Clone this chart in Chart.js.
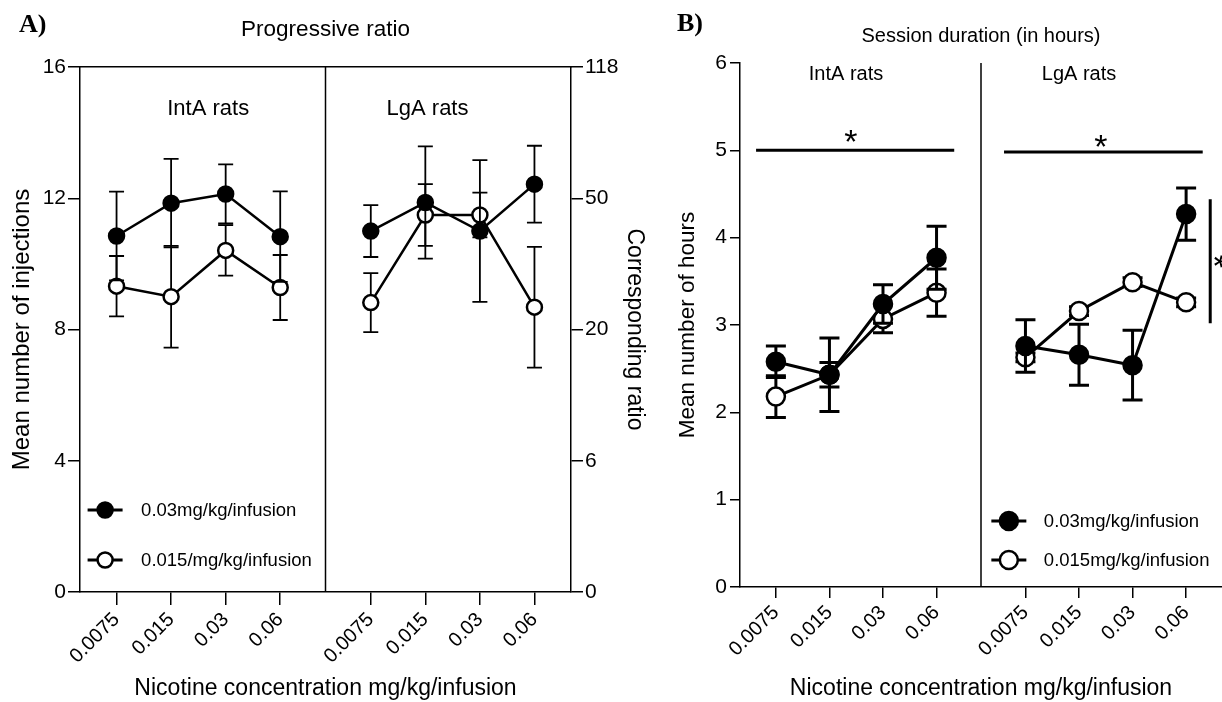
<!DOCTYPE html>
<html><head><meta charset="utf-8">
<script src="https://cdn.jsdelivr.net/npm/chart.js@4.4.1/dist/chart.umd.min.js"></script>
<style>
html,body{margin:0;padding:0;background:#fff;}
body{width:1222px;height:702px;position:relative;overflow:hidden;}
canvas{position:absolute;top:0;}
#ca{left:0;}
#cb{left:652px;}
.lbl{position:absolute;font-family:"Liberation Serif","Times New Roman",serif;font-weight:bold;font-size:26px;line-height:1;color:#000;}
</style></head>
<body>
<canvas id="ca" width="651" height="702"></canvas>
<canvas id="cb" width="570" height="702"></canvas>
<div class="lbl" style="left:19px;top:11px">A)</div>
<div class="lbl" style="left:677px;top:10px">B)</div>
<script>
// ---------- data ----------
const doses = ['0.0075', '0.015', '0.03', '0.06'];
const groups = ['IntA rats', 'LgA rats'];
const legendA = ['0.03mg/kg/infusion', '0.015/mg/kg/infusion'];
const legendB = ['0.03mg/kg/infusion', '0.015mg/kg/infusion'];

// Panel A: progressive ratio (mean number of injections)
const prIntA_03 = [10.85, 11.85, 12.13, 10.83];
const prIntA_03_sem = [1.35, 1.35, 0.90, 1.38];
const prIntA_015 = [9.32, 9.00, 10.41, 9.28];
const prIntA_015_sem = [0.92, 1.55, 0.77, 0.99];
const prLgA_03 = [11.00, 11.87, 11.00, 12.43];
const prLgA_03_sem = [0.79, 1.71, 2.16, 1.17];
const prLgA_015 = [8.82, 11.49, 11.49, 8.68];
const prLgA_015_sem = [0.90, 0.94, 0.68, 1.84];
const injTicks = [0, 4, 8, 12, 16];
const ratioTicks = ['0', '6', '20', '50', '118'];

// Panel B: session duration (hours)
const hrIntA_03 = [2.58, 2.43, 3.24, 3.77];
const hrIntA_03_sem = [0.18, 0.42, 0.22, 0.36];
const hrIntA_015 = [2.18, 2.43, 3.07, 3.37];
const hrIntA_015_sem = [0.24, 0.14, 0.16, 0.27];
const hrLgA_03 = [2.76, 2.66, 2.54, 4.27];
const hrLgA_03_sem = [0.30, 0.35, 0.40, 0.30];
const hrLgA_015 = [2.63, 3.16, 3.49, 3.26];
const hrLgA_015_sem = [0.05, 0.05, 0.05, 0.05];
const hourTicks = [0, 1, 2, 3, 4, 5, 6];

// significance marks (panel B, data units)
const sigIntA = {x0: 0.30, x1: 4.00, y: 5.0, starX: 2.07, starY: 5.2};
const sigLgA = {x0: 4.93, x1: 8.64, y: 4.98, starX: 6.74, starY: 5.14};
const sigVertical = {x: 8.78, y0: 3.02, y1: 4.44};

// ---------- helpers ----------
const F = '"Liberation Sans", Arial, Helvetica, sans-serif';
const slotStart = [0.67, 5.33];
const dividerAt = 4.5;
const tickPositions = [0, 1].flatMap(g => doses.map((d, i) => slotStart[g] + i));
function doseLabel(v) {
  const k = tickPositions.findIndex(p => Math.abs(p - v) < 1e-6);
  return k < 0 ? '' : doses[k % doses.length];
}
function pts(g, vals) { return vals.map((v, i) => ({x: slotStart[g] + i, y: v})); }
function series(g, vals, errs, filled, st) {
  return {
    data: pts(g, vals), err: errs,
    borderColor: '#000', backgroundColor: filled ? '#000' : '#fff',
    pointBackgroundColor: filled ? '#000' : '#fff', pointBorderColor: '#000',
    pointRadius: st.r, pointHoverRadius: st.r, pointBorderWidth: st.pbw,
    borderWidth: st.lw, tension: 0, fill: false
  };
}

const errorBars = {
  id: 'errorBars',
  beforeDatasetDraw(chart, args, o) {
    const ds = chart.data.datasets[args.index];
    if (!ds.err) return;
    const ys = chart.scales.y, ctx = chart.ctx;
    ctx.save();
    ctx.strokeStyle = '#000'; ctx.lineWidth = o.width; ctx.lineCap = 'butt';
    args.meta.data.forEach((p, i) => {
      const v = ds.data[i].y, e = ds.err[i];
      const y1 = ys.getPixelForValue(v + e), y2 = ys.getPixelForValue(v - e);
      ctx.beginPath();
      ctx.moveTo(p.x, y1); ctx.lineTo(p.x, y2);
      ctx.moveTo(p.x - o.cap, y1); ctx.lineTo(p.x + o.cap, y1);
      ctx.moveTo(p.x - o.cap, y2); ctx.lineTo(p.x + o.cap, y2);
      ctx.stroke();
    });
    ctx.restore();
  }
};

const deco = {
  id: 'deco',
  afterDraw(chart, args, o) {
    const {ctx, chartArea: ca} = chart;
    const x = chart.scales.x, y = chart.scales.y;
    ctx.save();
    ctx.fillStyle = '#000'; ctx.strokeStyle = '#000';
    // panel divider
    const dx = x.getPixelForValue(dividerAt);
    ctx.lineWidth = o.axisWidth;
    ctx.beginPath(); ctx.moveTo(dx, ca.top); ctx.lineTo(dx, ca.bottom); ctx.stroke();
    // title
    ctx.font = o.titleSize + 'px ' + F;
    ctx.textAlign = 'center'; ctx.textBaseline = 'alphabetic';
    ctx.fillText(o.title, (ca.left + ca.right) / 2, o.titleBaseline);
    // group labels
    ctx.font = o.groupSize + 'px ' + F;
    groups.forEach((name, g) => ctx.fillText(name, x.getPixelForValue(o.groupX[g]), y.getPixelForValue(o.groupY)));
    // legend
    const L = o.legend;
    const cx = x.getPixelForValue(L.x);
    L.labels.forEach((txt, k) => {
      const cy = y.getPixelForValue(L.rows[k]);
      ctx.lineWidth = L.lw;
      ctx.beginPath(); ctx.moveTo(cx - L.half, cy); ctx.lineTo(cx + L.half, cy); ctx.stroke();
      ctx.beginPath(); ctx.arc(cx, cy, L.r, 0, Math.PI * 2);
      ctx.fillStyle = k === 0 ? '#000' : '#fff'; ctx.fill();
      ctx.lineWidth = L.pbw; ctx.stroke();
      ctx.fillStyle = '#000';
      ctx.font = L.size + 'px ' + F; ctx.textAlign = 'left'; ctx.textBaseline = 'middle';
      ctx.fillText(txt, cx + L.textOff, cy + 1);
    });
    // significance marks
    if (o.sig) {
      ctx.lineWidth = 3;
      [sigIntA, sigLgA].forEach(s => {
        const yy = y.getPixelForValue(s.y);
        ctx.beginPath(); ctx.moveTo(x.getPixelForValue(s.x0), yy); ctx.lineTo(x.getPixelForValue(s.x1), yy); ctx.stroke();
        ctx.font = o.starSize + 'px ' + F; ctx.textAlign = 'center'; ctx.textBaseline = 'alphabetic';
        ctx.fillText('*', x.getPixelForValue(s.starX), y.getPixelForValue(s.starY) + 0.58 * o.starSize);
      });
      const vx = x.getPixelForValue(sigVertical.x);
      const vy0 = y.getPixelForValue(sigVertical.y0), vy1 = y.getPixelForValue(sigVertical.y1);
      ctx.beginPath(); ctx.moveTo(vx, vy0); ctx.lineTo(vx, vy1); ctx.stroke();
      ctx.save();
      ctx.translate(vx + 13, (vy0 + vy1) / 2);
      ctx.rotate(Math.PI / 2);
      ctx.fillText('*', 0, 0.58 * o.starSize);
      ctx.restore();
    }
    ctx.restore();
  }
};

// force exact chart area (no automatic label overhang margins)
const fixedArea = {
  id: 'fixedArea',
  afterLayout(chart, args, o) {
    const ca = chart.chartArea;
    if (Math.abs(ca.right - o.right) < 0.5) return;
    ca.right = o.right; ca.width = ca.right - ca.left;
    Object.values(chart.scales).forEach(s => {
      if (s.isHorizontal()) {
        s.right = o.right; s.width = s.right - s.left;
        s.configure();
      }
    });
  }
};

Chart.defaults.color = '#000';
Chart.defaults.font.family = F;

function axisX(height, tickLen, fontSize) {
  return {
    type: 'linear', min: 0, max: 9, position: 'bottom',
    afterBuildTicks: s => { s.ticks = tickPositions.map(v => ({value: v})); },
    afterFit: s => { s.height = height; s.paddingLeft = 0; s.paddingRight = 0; },
    ticks: {autoSkip: false, minRotation: 45, maxRotation: 45, padding: 3, color: '#000',
      font: {size: fontSize, family: F}, callback: v => doseLabel(v)},
    grid: {drawOnChartArea: false, drawTicks: true, tickLength: tickLen, color: '#000', lineWidth: 1.5},
    border: {display: true, color: '#000', width: 1.5},
    title: {display: true, text: 'Nicotine concentration mg/kg/infusion', color: '#000',
      font: {size: 23, family: F}, padding: {top: 0, bottom: 0}}
  };
}

// ---------- Panel A ----------
const stA = {r: 7.5, pbw: 2.5, lw: 2.5};
new Chart(document.getElementById('ca'), {
  type: 'line',
  data: {datasets: [
    series(0, prIntA_03, prIntA_03_sem, true, stA),
    series(1, prLgA_03, prLgA_03_sem, true, stA),
    series(0, prIntA_015, prIntA_015_sem, false, stA),
    series(1, prLgA_015, prLgA_015_sem, false, stA)
  ]},
  options: {
    responsive: false, animation: false, devicePixelRatio: 1,
    layout: {padding: {top: 67, left: 0, right: 0, bottom: 0}},
    plugins: {
      legend: {display: false}, tooltip: {enabled: false},
      errorBars: {width: 1.8, cap: 7.5},
      fixedArea: {right: 571},
      deco: {axisWidth: 1.5, title: 'Progressive ratio', titleSize: 22.5, titleBaseline: 36,
        groupSize: 22, groupX: [2.35, 6.37], groupY: 14.54,
        legend: {labels: legendA, x: 0.46, rows: [2.5, 0.976], half: 17.5, r: 7.5, lw: 3, pbw: 2.5, size: 18.5, textOff: 36},
        sig: false}
    },
    scales: {
      x: axisX(110, 13, 20),
      xTop: {type: 'linear', min: 0, max: 9, position: 'top',
        ticks: {display: false}, grid: {drawOnChartArea: false, drawTicks: false},
        border: {display: true, color: '#000', width: 1.5}, afterFit: s => { s.height = 0; }},
      y: {type: 'linear', min: 0, max: 16, position: 'left',
        afterBuildTicks: s => { s.ticks = injTicks.map(v => ({value: v})); },
        afterFit: s => { s.width = 80; },
        ticks: {padding: 2, color: '#000', font: {size: 21, family: F}},
        grid: {drawOnChartArea: false, tickLength: 12, color: '#000', lineWidth: 1.5},
        border: {display: true, color: '#000', width: 1.5},
        title: {display: true, text: 'Mean number of injections', color: '#000', font: {size: 24, family: F}, padding: {top: 7.5, bottom: 0}}},
      y2: {type: 'linear', min: 0, max: 16, position: 'right',
        afterBuildTicks: s => { s.ticks = injTicks.map(v => ({value: v})); },
        afterFit: s => { s.width = 80; },
        ticks: {padding: 2, color: '#000', font: {size: 21, family: F}, callback: v => ratioTicks[injTicks.indexOf(v)]},
        grid: {drawOnChartArea: false, tickLength: 12, color: '#000', lineWidth: 1.5},
        border: {display: true, color: '#000', width: 1.5},
        title: {display: true, text: 'Corresponding ratio', color: '#000', font: {size: 23, family: F}, padding: {top: 3, bottom: 0}}}
    }
  },
  plugins: [errorBars, deco, fixedArea]
});

// ---------- Panel B ----------
const stB = {r: 9, pbw: 2.5, lw: 3};
new Chart(document.getElementById('cb'), {
  type: 'line',
  data: {datasets: [
    series(0, hrIntA_03, hrIntA_03_sem, true, stB),
    series(1, hrLgA_03, hrLgA_03_sem, true, stB),
    series(0, hrIntA_015, hrIntA_015_sem, false, stB),
    series(1, hrLgA_015, hrLgA_015_sem, false, stB)
  ]},
  options: {
    responsive: false, animation: false, devicePixelRatio: 1,
    layout: {padding: {top: 63, left: 0, right: 0, bottom: 0}},
    plugins: {
      legend: {display: false}, tooltip: {enabled: false},
      errorBars: {width: 3, cap: 10},
      fixedArea: {right: 570},
      deco: {axisWidth: 1.5, title: 'Session duration (in hours)', titleSize: 20, titleBaseline: 42,
        groupSize: 20, groupX: [1.98, 6.33], groupY: 5.805,
        legend: {labels: legendB, x: 5.02, rows: [0.756, 0.309], half: 17.5, r: 9, lw: 3, pbw: 2.5, size: 18.5, textOff: 35},
        sig: true, starSize: 34}
    },
    scales: {
      x: axisX(115, 11, 20),
      y: {type: 'linear', min: 0, max: 6, position: 'left',
        afterBuildTicks: s => { s.ticks = hourTicks.map(v => ({value: v})); },
        afterFit: s => { s.width = 88; },
        ticks: {padding: 3, color: '#000', font: {size: 21, family: F}},
        grid: {drawOnChartArea: false, tickLength: 10, color: '#000', lineWidth: 1.5},
        border: {display: true, color: '#000', width: 1.5},
        title: {display: true, text: 'Mean number of hours', color: '#000', font: {size: 22.5, family: F}, padding: {top: 22.5, bottom: 0}}}
    }
  },
  plugins: [errorBars, deco, fixedArea]
});
</script>
</body></html>
